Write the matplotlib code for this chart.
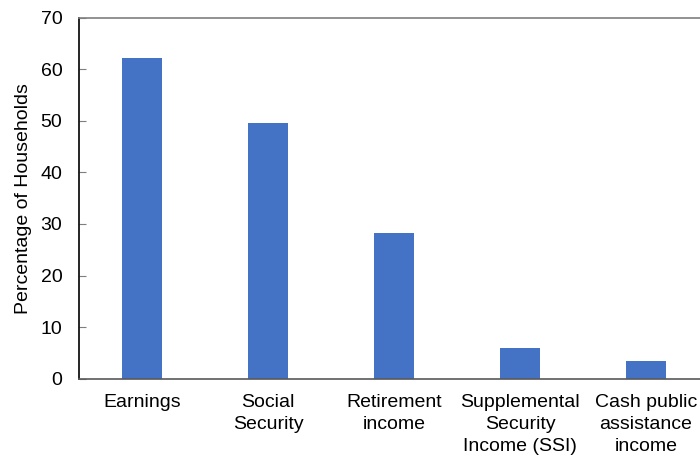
import matplotlib.pyplot as plt

categories = ["Earnings", "Social\nSecurity", "Retirement\nincome",
              "Supplemental\nSecurity\nIncome (SSI)", "Cash public\nassistance\nincome"]
values = [62.2, 49.6, 28.2, 5.9, 3.4]
yticks = [0, 10, 20, 30, 40, 50, 60, 70]

plt.rcParams['font.family'] = ['Liberation Sans', 'DejaVu Sans']

fig = plt.figure(figsize=(7, 4.61), dpi=100)
ax = fig.add_axes([79/700, 82.3/461, 630/700, 361/461])

x = list(range(len(categories)))
ax.bar(x, values, width=0.31, color='#4472C4')

ax.set_xlim(-0.5, 4.5)
ax.set_ylim(0, 70)
ax.set_yticks(yticks)
ax.set_xticks(x)
ax.set_xticklabels(categories, fontsize=14, linespacing=1.38)
ax.tick_params(axis='y', direction='in', length=5, color='#7f7f7f',
               labelsize=14, pad=12)
ax.tick_params(axis='x', length=0, labelsize=14, pad=11)
ax.set_ylabel("Percentage of Households", fontsize=14, labelpad=6)

ax.spines['left'].set_color('black')
ax.spines['bottom'].set_color('#595959')
ax.spines['top'].set_color('#7f7f7f')
ax.spines['right'].set_visible(False)
for s in ['left', 'bottom', 'top']:
    ax.spines[s].set_linewidth(1.2)

fig.savefig('out.png', dpi=100)
